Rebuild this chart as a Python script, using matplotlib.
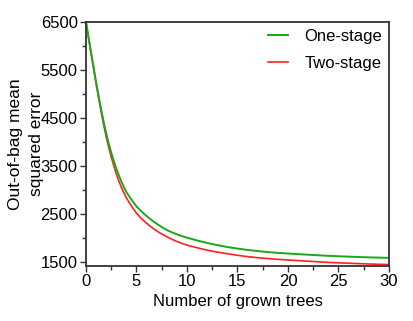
import matplotlib
matplotlib.use('Agg')
import matplotlib.pyplot as plt
from matplotlib.ticker import MultipleLocator

plt.rcParams['font.family'] = ['Liberation Sans', 'DejaVu Sans']

trees = [0, 0.25, 0.5, 0.75, 1, 1.25, 1.5, 1.75, 2, 2.25, 2.5, 2.75, 3,
         3.25, 3.5, 3.75, 4, 4.5, 5, 5.5, 6, 6.5, 7, 7.5, 8, 8.5, 9, 9.5,
         10, 11, 12, 13, 14, 15, 16, 17, 18, 19, 20, 22, 24, 26, 28, 30]
one_stage = [6500, 6180, 5870, 5560, 5250, 4960, 4680, 4420, 4180, 3970,
             3780, 3610, 3450, 3310, 3180, 3065, 2960, 2800, 2660, 2555,
             2460, 2375, 2300, 2232, 2170, 2122, 2080, 2043, 2010, 1952,
             1900, 1855, 1815, 1783, 1755, 1731, 1710, 1694, 1680, 1655,
             1632, 1615, 1600, 1590]
two_stage = [6500, 6175, 5860, 5540, 5220, 4920, 4630, 4360, 4110, 3890,
             3690, 3510, 3340, 3190, 3060, 2945, 2840, 2670, 2520, 2405,
             2310, 2225, 2150, 2087, 2030, 1978, 1930, 1890, 1855, 1800,
             1750, 1710, 1675, 1643, 1615, 1593, 1575, 1559, 1545, 1520,
             1495, 1478, 1462, 1450]

fig = plt.figure(figsize=(4.14, 3.21), dpi=100)
ax = fig.add_axes([0.2077, 0.1713, 0.7319, 0.7602])

ax.plot(trees, two_stage, color='#ff2020', lw=1.2, label='Two-stage')
ax.plot(trees, one_stage, color='#1aa81a', lw=1.4, label='One-stage')

ax.set_xlim(0, 30)
ax.set_ylim(1420, 6500)
ax.xaxis.set_major_locator(MultipleLocator(5))
ax.xaxis.set_minor_locator(MultipleLocator(2.5))
ax.set_yticks([1500, 2500, 3500, 4500, 5500, 6500])
ax.yaxis.set_minor_locator(MultipleLocator(500))
ax.tick_params(which='major', length=4, width=1, labelsize=12, pad=2, color='#333333')
ax.tick_params(which='minor', length=3, width=1, color='#333333')
for s in ax.spines.values():
    s.set_color('#333333')
    s.set_linewidth(1.3)

ax.set_xlabel('Number of grown trees', fontsize=12, labelpad=3)
ax.set_ylabel('Out-of-bag mean\nsquared error', fontsize=12.5, linespacing=1.45)
ax.yaxis.set_label_coords(-0.14, 0.5)

h, l = ax.get_legend_handles_labels()
ax.legend(h[::-1], l[::-1], loc='upper right', frameon=False, fontsize=12,
          handlelength=1.2, handletextpad=1.0, labelspacing=0.75,
          borderaxespad=0.0)

fig.savefig('out.png', dpi=100)
